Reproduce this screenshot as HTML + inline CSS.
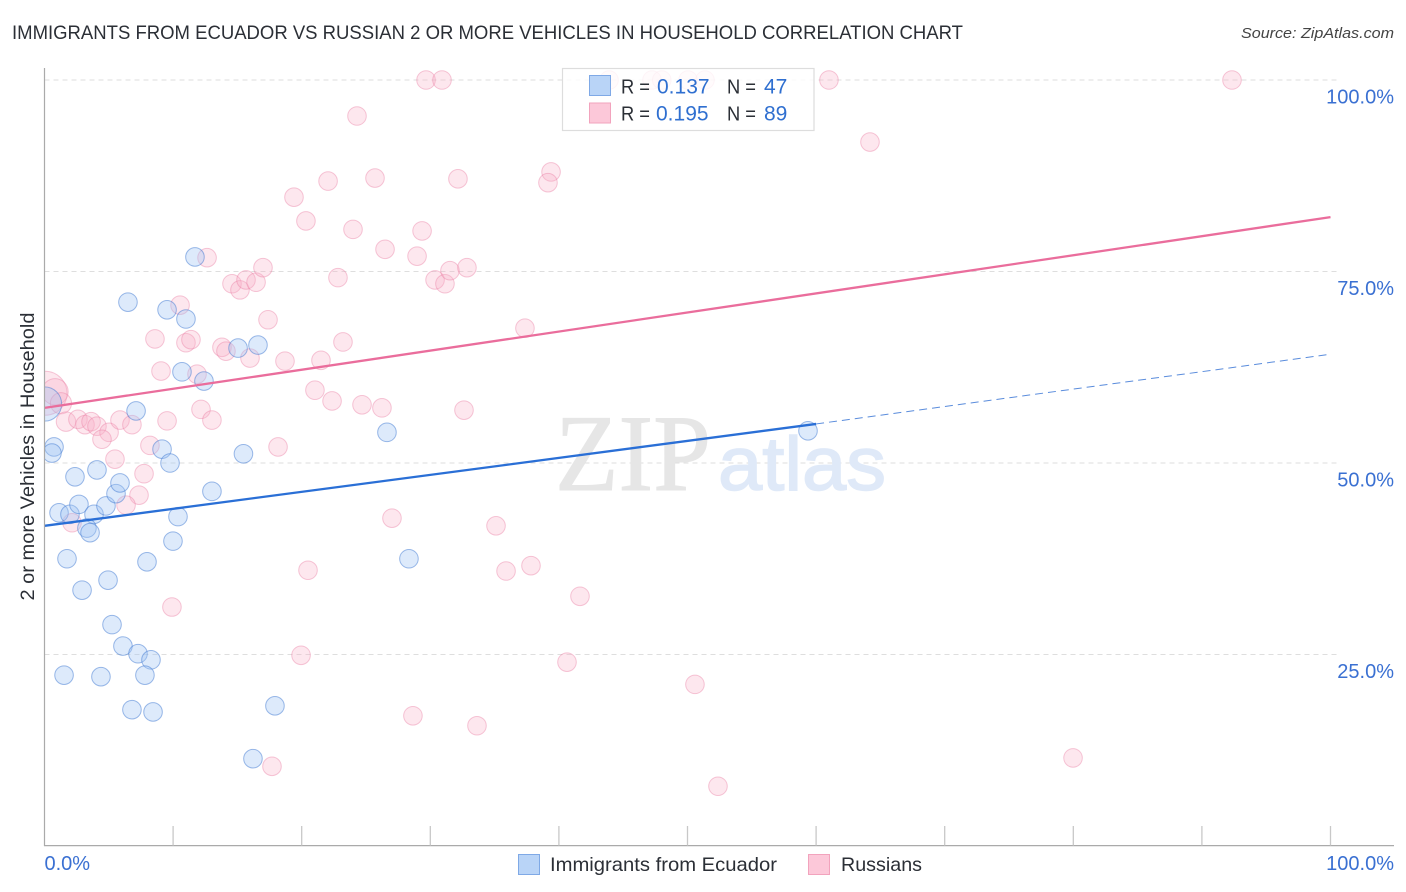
<!DOCTYPE html>
<html lang="en">
<head>
<meta charset="utf-8">
<title>Immigrants from Ecuador vs Russian 2 or more Vehicles in Household Correlation Chart</title>
<style>
html,body{margin:0;padding:0;background:#fff;}
svg{display:block;font-family:"Liberation Sans",sans-serif;}
</style>
</head>
<body>
<svg id="chart" width="1406" height="892" viewBox="0 0 1406 892" xmlns="http://www.w3.org/2000/svg">
  <defs><clipPath id="plot-clip"><rect x="44.5" y="50" width="1350" height="796"/></clipPath></defs>
  <text x="12" y="39" font-size="19.5" fill="#2b2f36" textLength="951" lengthAdjust="spacingAndGlyphs">IMMIGRANTS FROM ECUADOR VS RUSSIAN 2 OR MORE VEHICLES IN HOUSEHOLD CORRELATION CHART</text>
  <text x="1394" y="38" font-size="15" font-style="italic" fill="#444" text-anchor="end" textLength="153" lengthAdjust="spacingAndGlyphs">Source: ZipAtlas.com</text>
  <g id="grid"></g>
  <g>
    <text x="555" y="490" font-family="'Liberation Serif',serif" font-size="109" fill="#e6e6e6" stroke="#e6e6e6" stroke-width="1" textLength="156" lengthAdjust="spacingAndGlyphs">ZIP</text>
    <text x="718" y="490" font-size="76" fill="#dfe9f8" stroke="#dfe9f8" stroke-width="1.5" textLength="168" lengthAdjust="spacingAndGlyphs">atlas</text>
  </g>
  <g id="points" clip-path="url(#plot-clip)"></g>
  <g id="trends"></g>
  <line x1="44.5" y1="68" x2="44.5" y2="846" stroke="#aaa" stroke-width="1.2"/>
  <line x1="44" y1="845.6" x2="1394" y2="845.6" stroke="#aaa" stroke-width="1.2"/>
  <g id="ticks"></g>
  <g id="labels"></g>
  <text transform="translate(34,456.5) rotate(-90)" font-size="19" fill="#2b2f36" text-anchor="middle" textLength="288" lengthAdjust="spacingAndGlyphs">2 or more Vehicles in Household</text>

  <g>
    <rect x="562.5" y="68.5" width="251.5" height="62" fill="#fff" fill-opacity="0.82" stroke="#ddd" stroke-width="1.2"/>
    <rect x="589.5" y="75.5" width="21" height="20" fill="#b9d4f7" stroke="#7fa9e6"/>
    <rect x="589.5" y="103" width="21" height="20" fill="#fcc8d9" stroke="#f2a3bd"/>
    <g font-size="20" fill="#2b2f36">
      <text x="621" y="93.5" textLength="29" lengthAdjust="spacingAndGlyphs">R =</text>
      <text x="727" y="93.5" textLength="29" lengthAdjust="spacingAndGlyphs">N =</text>
      <text x="621" y="120.5" textLength="29" lengthAdjust="spacingAndGlyphs">R =</text>
      <text x="727" y="120.5" textLength="29" lengthAdjust="spacingAndGlyphs">N =</text>
    </g>
    <g font-size="21" fill="#2f6fd0">
      <text x="657" y="93.5">0.137</text>
      <text x="764" y="93.5">47</text>
      <text x="656" y="120.5">0.195</text>
      <text x="764" y="120.5">89</text>
    </g>
  </g>

  <g>
    <g>
      <rect x="518.5" y="854.5" width="21" height="20" fill="#b9d4f7" stroke="#7fa9e6"/>
      <text x="550" y="871" font-size="19.5" fill="#2b2f36" textLength="227" lengthAdjust="spacingAndGlyphs">Immigrants from Ecuador</text>
    </g>
    <g>
      <rect x="808.5" y="854.5" width="21" height="20" fill="#fcc8d9" stroke="#f2a3bd"/>
      <text x="841" y="871" font-size="19.5" fill="#2b2f36" textLength="81" lengthAdjust="spacingAndGlyphs">Russians</text>
    </g>
  </g>
</svg>
<script>
const yTickValues = [25, 50, 75, 100];
const yTickLabels = ["25.0%", "50.0%", "75.0%", "100.0%"];
const xTickValues = [0, 10, 20, 30, 40, 50, 60, 70, 80, 90, 100];
const xEndValues = [0, 100];
const xEndLabels = ["0.0%", "100.0%"];

const ecuadorX = [0.0,0.74,0.58,2.37,4.08,1.13,1.98,2.68,3.85,4.78,5.56,5.87,3.30,3.54,1.75,2.92,4.94,7.97,9.99,10.38,13.02,9.14,9.76,15.47,7.12,12.40,10.69,11.0,9.53,6.49,11.7,15.05,16.6,26.63,28.34,5.25,6.1,7.27,8.28,7.81,1.52,4.39,6.8,8.44,17.92,16.21,59.37];
const ecuadorY = [57.7,52.1,51.3,48.2,49.1,43.5,43.3,44.6,43.3,44.4,46.0,47.4,41.5,40.9,37.5,33.4,34.7,37.1,39.8,43.0,46.3,51.8,50.0,51.2,56.8,60.7,61.9,68.8,70.0,71.0,76.9,65.0,65.4,54.0,37.5,28.9,26.1,25.1,24.3,22.3,22.3,22.1,17.8,17.5,18.3,11.4,54.2];
const ecuadorWeight = [3.4];

const russiansX = [0.04,0.82,1.28,1.67,2.6,3.15,3.62,4.08,5.02,4.47,5.87,6.8,9.53,12.17,13.02,9.06,11.86,8.2,5.48,7.74,7.35,6.34,2.14,9.91,18.16,8.59,11.0,11.39,10.54,12.64,13.8,14.11,14.58,15.2,15.67,16.45,16.99,17.38,15.98,18.7,21.5,23.21,21.03,22.36,24.69,26.24,32.62,37.36,22.82,19.4,20.33,22.05,23.99,24.3,25.7,26.48,29.36,28.97,30.37,31.14,31.53,32.85,32.15,39.39,39.15,29.67,30.91,43.9,47.24,50.04,51.36,61.0,92.34,64.19,27.02,35.11,35.89,37.83,41.64,20.49,19.95,40.63,50.58,28.65,33.63,17.69,52.37,79.98,48.0];
const russiansY = [59.1,59.3,57.8,55.4,55.7,55.0,55.4,54.8,54.0,53.1,55.6,55.0,55.5,57.0,55.6,62.0,61.6,52.3,50.5,48.6,45.8,44.5,42.2,31.2,52.1,66.2,65.7,66.1,70.6,76.8,65.1,64.6,73.4,72.6,73.9,73.6,75.5,68.7,63.7,63.3,63.4,65.8,59.5,58.1,57.6,57.2,56.9,67.6,74.2,84.7,81.6,86.8,80.5,95.3,87.2,77.9,80.3,77.0,73.9,73.4,75.1,75.5,87.1,88.0,86.6,100,100,100,100,100,100,100,100,91.9,42.8,41.8,35.9,36.6,32.6,36.0,24.9,24.0,21.1,17.0,15.7,10.4,7.8,11.5,100];
const russiansWeight = [5.6,2,1.3,1.1];

const ecuadorTrendX = [0, 60];
const ecuadorTrendY = [41.8, 55.1];
const ecuadorForecastX = [60, 100];
const ecuadorForecastY = [55.1, 64.2];
const russiansTrendX = [0, 100];
const russiansTrendY = [57.2, 82.1];

const SVG_NS = "http://www.w3.org/2000/svg";
function sx(v) { return 44.5 + v * 12.86; }
function sy(v) { return 846 - v * 7.66; }
function make(tag, attrs, parent) {
  const el = document.createElementNS(SVG_NS, tag);
  for (const k in attrs) el.setAttribute(k, attrs[k]);
  parent.appendChild(el);
  return el;
}
const gridG = document.getElementById("grid");
const ticksG = document.getElementById("ticks");
const labelsG = document.getElementById("labels");
const pointsG = document.getElementById("points");
const trendsG = document.getElementById("trends");

yTickValues.forEach(function (v, i) {
  const ln = make("line", {x1: 44.5, x2: 1338, y1: sy(v), y2: sy(v), stroke: "#dedede", "stroke-width": 1, "stroke-dasharray": "5 4"}, gridG);
  
  
  const t = make("text", {x: 1394, y: sy(v) + 23.5, "text-anchor": "end", "font-size": 20, fill: "#3a70d2"}, labelsG);
  t.textContent = yTickLabels[i];
  
  
});

xTickValues.forEach(function (v) {
  if (v === 0) return;
  const ln = make("line", {x1: sx(v), x2: sx(v), y1: 826, y2: 845.5, stroke: "#c8c8c8", "stroke-width": 1.3}, ticksG);
  
  
});

xEndValues.forEach(function (v, i) {
  const t = make("text", {x: i === 0 ? sx(v) : 1394, y: 870, "text-anchor": i === 0 ? "start" : "end", "font-size": 20, fill: "#3a70d2"}, labelsG);
  t.textContent = xEndLabels[i];
  
  
});

function drawSeries(xs, ys, weights, fill, stroke, name) {
  xs.forEach(function (x, i) {
    const r = 9.3 * Math.sqrt(weights[i] || 1);
    const c = make("circle", {cx: sx(x), cy: sy(ys[i]), r: r, fill: fill, stroke: stroke, "stroke-width": 1}, pointsG);
    
    
  });
}
drawSeries(russiansX, russiansY, russiansWeight, "rgba(248,175,198,0.3)", "rgba(233,125,162,0.42)", "russians-point");
drawSeries(ecuadorX, ecuadorY, ecuadorWeight, "rgba(160,198,245,0.36)", "rgba(62,120,210,0.5)", "ecuador-point");

const forecast = make("line", {x1: sx(ecuadorForecastX[0]), y1: sy(ecuadorForecastY[0]), x2: sx(ecuadorForecastX[1]), y2: sy(ecuadorForecastY[1]), stroke: "#5a8cdc", "stroke-width": 1, "stroke-dasharray": "8 5"}, trendsG);


const ecTrend = make("line", {x1: sx(ecuadorTrendX[0]), y1: sy(ecuadorTrendY[0]), x2: sx(ecuadorTrendX[1]), y2: sy(ecuadorTrendY[1]), stroke: "#2a6fd6", "stroke-width": 2.3}, trendsG);


const ruTrend = make("line", {x1: sx(russiansTrendX[0]), y1: sy(russiansTrendY[0]), x2: sx(russiansTrendX[1]), y2: sy(russiansTrendY[1]), stroke: "#ea6d9c", "stroke-width": 2.3}, trendsG);


</script>
</body>
</html>
